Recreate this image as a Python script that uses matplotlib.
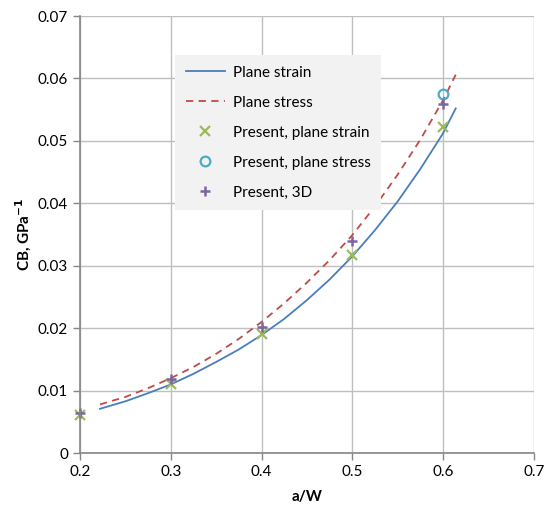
import matplotlib
matplotlib.use("Agg")
import matplotlib.pyplot as plt

# curves from the analytical solution
aw_curve = [0.222, 0.25, 0.275, 0.30, 0.325, 0.35, 0.375, 0.40, 0.425, 0.45,
            0.475, 0.50, 0.525, 0.55, 0.575, 0.60, 0.614]
cb_strain = [0.0071, 0.0083, 0.0096, 0.0110, 0.0127, 0.0146, 0.0166, 0.0189, 0.0215, 0.0245,
             0.0278, 0.0315, 0.0357, 0.0403, 0.0455, 0.0512, 0.0552]
cb_stress = [0.0078, 0.0090, 0.0104, 0.0120, 0.0138, 0.0159, 0.0183, 0.0210, 0.0240, 0.0273,
             0.0309, 0.0349, 0.0395, 0.0446, 0.0502, 0.0565, 0.0606]

# present results
aw_pts = [0.2, 0.3, 0.4, 0.5, 0.6]
pts_strain = [0.0061, 0.0110, 0.0191, 0.0318, 0.0523]
pts_3d = [0.0064, 0.0118, 0.0202, 0.0339, 0.0559]
aw_stress_pts = [0.6]
pts_stress = [0.0575]

plt.rcParams["font.family"] = ["Lato", "DejaVu Sans"]

fig = plt.figure(figsize=(5.48, 5.08), dpi=100)
ax = fig.add_axes([0.146, 0.108, 0.828, 0.8605])

ax.plot(aw_curve, cb_strain, color="#4a7ebb", lw=1.3, label="Plane strain")
ax.plot(aw_curve, cb_stress, color="#be4b48", lw=1.3, ls=(0, (4, 3)), label="Plane stress")
ax.plot(aw_pts, pts_strain, ls="none", marker="x", ms=7, mew=1.6, color="#9bbb59",
        label="Present, plane strain", clip_on=False)
ax.plot(aw_stress_pts, pts_stress, ls="none", marker="o", ms=7, mew=1.6, mfc="none",
        mec="#4bacc6", label="Present, plane stress", clip_on=False)
ax.plot(aw_pts, pts_3d, ls="none", marker="+", ms=7, mew=1.8, color="#8064a2",
        label="Present, 3D", clip_on=False)

ax.set_xlim(0.2, 0.7)
ax.set_ylim(0, 0.07)
ax.set_xticks([0.2, 0.3, 0.4, 0.5, 0.6, 0.7])
ax.set_xticklabels(["0.2", "0.3", "0.4", "0.5", "0.6", "0.7"])
ax.set_yticks([0, 0.01, 0.02, 0.03, 0.04, 0.05, 0.06, 0.07])
ax.set_yticklabels(["0", "0.01", "0.02", "0.03", "0.04", "0.05", "0.06", "0.07"])
ax.grid(True, color="#bfbfbf", lw=1)
ax.set_axisbelow(True)
for side in ("top", "right"):
    ax.spines[side].set_visible(False)
for side in ("left", "bottom"):
    ax.spines[side].set_color("#868686")
    ax.spines[side].set_linewidth(1.2)
ax.tick_params(axis="both", colors="#868686", labelcolor="black", labelsize=11,
               length=5, width=1)

ax.set_xlabel("a/W", fontsize=11, fontweight="bold", labelpad=8)
ax.set_ylabel("CB, GPa$^{\\mathbf{-1}}$", fontsize=11, fontweight="bold", labelpad=3)

leg = ax.legend(loc="upper left", bbox_to_anchor=(0.319, 0.892),
                bbox_transform=fig.transFigure, borderaxespad=0,
                fontsize=11, frameon=True, fancybox=False, edgecolor="none",
                facecolor="#f2f2f2", framealpha=1, handlelength=2.6,
                handletextpad=0.5, labelspacing=1.05, borderpad=0.7)

fig.savefig("out.png", dpi=100)
